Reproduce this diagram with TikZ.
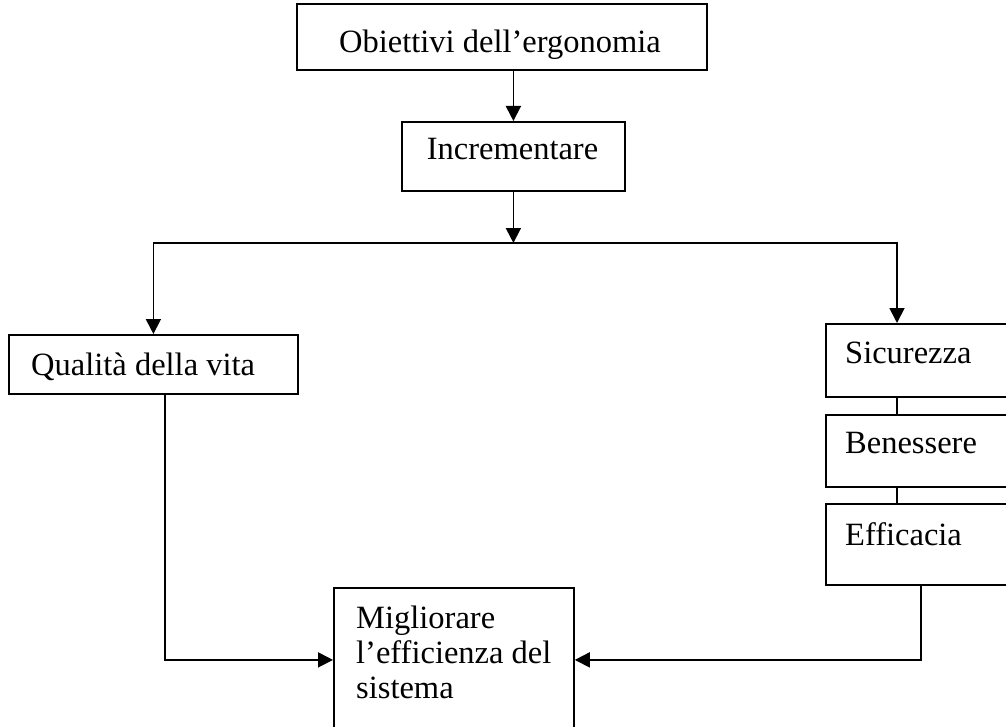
\documentclass[tikz,border=0pt]{standalone}
\usepackage{fontspec}
\setmainfont{Liberation Serif}
\usetikzlibrary{arrows.meta}
\begin{document}
\begin{tikzpicture}[x=1bp,y=-1bp,
  box/.style={draw, line width=1.8bp, inner sep=0pt, anchor=north west},
  lbl/.style={inner sep=0pt, font=\fontsize{32.5bp}{35bp}\selectfont},
  conn/.style={line width=1.8bp},
  arr/.style={conn, -{Triangle[length=15bp,width=15bp]}}]
\useasboundingbox (0,0) rectangle (1006,727);
\clip (0,0) rectangle (1006,727);
% boxes
\node[box, minimum width=410bp, minimum height=66bp] (top) at (296,3) {};
\node[lbl, anchor=base] (ttop) at (500,53) {Obiettivi dell’ergonomia};
\node[box, minimum width=223bp, minimum height=69bp] (inc) at (401,121) {};
\node[lbl, anchor=base] (tinc) at (512.5,160) {Incrementare};
\node[box, minimum width=289bp, minimum height=59bp] (qual) at (8,334) {};
\node[lbl, anchor=base west] (tqual) at (31,375) {Qualità della vita};
\node[box, minimum width=200bp, minimum height=73bp] (sic) at (825,323) {};
\node[lbl, anchor=base west] (tsic) at (845,363) {Sicurezza};
\node[box, minimum width=200bp, minimum height=72bp] (ben) at (825,414) {};
\node[lbl, anchor=base west] (tben) at (845,453) {Benessere};
\node[box, minimum width=200bp, minimum height=81bp] (eff) at (825,503) {};
\node[lbl, anchor=base west] (teff) at (845,545) {Efficacia};
\node[box, minimum width=240bp, minimum height=144bp] (mig) at (333,587) {};
\node[lbl, anchor=north west, align=left] (tmig) at (356,606) {Migliorare\\l’efficienza del\\sistema};
% connectors
\coordinate (split) at (512,243);
\coordinate (rgt) at (897,243);
\coordinate (lx) at (165,0);
\coordinate (rx) at (921,0);
\draw[arr] (inc.north |- top.south) -- (inc.north);
\draw[arr] (inc.south) -- (inc.south |- split);
\draw[conn, {Triangle[length=15bp,width=15bp]}-{Triangle[length=15bp,width=15bp]}] (qual.north) |- (split) -| (rgt |- sic.north);
\draw[conn] (sic.south -| rgt) -- (ben.north -| rgt);
\draw[conn] (ben.south -| rgt) -- (eff.north -| rgt);
\draw[arr] (qual.south -| lx) |- (mig.west);
\draw[arr] (eff.south -| rx) |- (mig.east);
\end{tikzpicture}
\end{document}
